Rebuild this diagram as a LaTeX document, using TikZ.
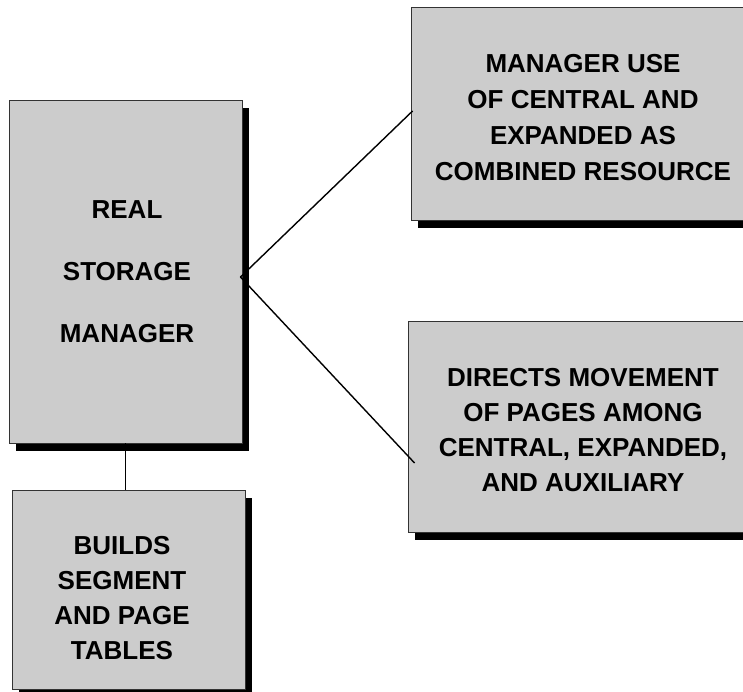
\documentclass[tikz,border=0pt]{standalone}
\usepackage{fontspec}
\setmainfont{Liberation Sans}
\usetikzlibrary{shadows,calc}
\begin{document}
\begin{tikzpicture}[x=1pt,y=-1pt,
  box/.style={draw=black!80, fill=black!20, line width=0.9pt, inner sep=0pt,
    drop shadow={shadow xshift=7pt, shadow yshift=-8pt, fill=black, opacity=1}},
  txt/.style={align=center, inner sep=0pt, font=\fontsize{26}{36}\selectfont\bfseries},
  conn/.style={line width=1.4pt, black}]
\useasboundingbox (0,0) rectangle (743,692);
\clip (0,0) rectangle (743,692);
% boxes
\node[box, minimum width=233pt, minimum height=343pt] (main) at (125.5,271.5) {};
\node[box, minimum width=233pt, minimum height=199pt] (bb) at (128.5,589.5) {};
\node[box, minimum width=342pt, minimum height=213pt] (tr) at (582,113.5) {};
\node[box, minimum width=348pt, minimum height=211pt] (mr) at (582,426.5) {};
% texts
\node[txt, font=\fontsize{26}{62}\selectfont\bfseries] (maintxt) at (127,272) {REAL\\STORAGE\\MANAGER};
\node[txt, font=\fontsize{26}{35}\selectfont\bfseries] (bbtxt) at (122,598) {BUILDS\\SEGMENT\\AND PAGE\\TABLES};
\node[txt] (trtxt) at (583,118) {MANAGER USE\\OF CENTRAL AND\\EXPANDED AS\\COMBINED RESOURCE};
\node[txt, font=\fontsize{26}{35}\selectfont\bfseries] (mrtxt) at (583,430) {DIRECTS MOVEMENT\\OF PAGES AMONG\\CENTRAL, EXPANDED,\\AND AUXILIARY};
% connectors
\coordinate (j) at ($(main.east)+(-2,5.5)$);
\coordinate (e1) at ($(tr.west)+(2,-2.5)$);
\coordinate (e2) at ($(mr.west)+(7,36.5)$);
\draw[conn] (j) -- (e1);
\draw[conn] (j) -- (e2);
\draw[line width=1pt] (main.south -| 125,0) -- (bb.north -| 125,0);
\end{tikzpicture}
\end{document}
